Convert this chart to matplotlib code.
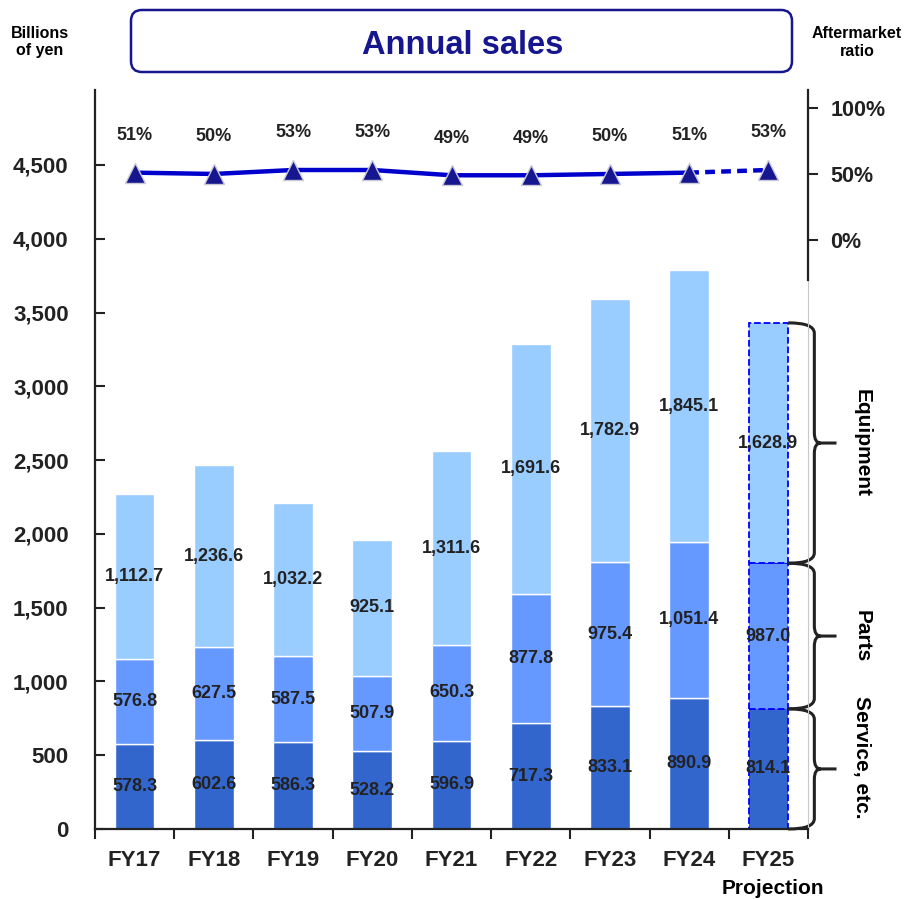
import numpy as np
import matplotlib
matplotlib.use('Agg')
import matplotlib.pyplot as plt
from matplotlib.patches import FancyBboxPatch, PathPatch
from matplotlib.path import Path

plt.rcParams['font.family'] = ['Liberation Sans', 'DejaVu Sans']
plt.rcParams['font.weight'] = 'bold'

# data
years = ['FY17', 'FY18', 'FY19', 'FY20', 'FY21', 'FY22', 'FY23', 'FY24', 'FY25']
service = [578.3, 602.6, 586.3, 528.2, 596.9, 717.3, 833.1, 890.9, 814.1]
parts = [576.8, 627.5, 587.5, 507.9, 650.3, 877.8, 975.4, 1051.4, 987.0]
equipment = [1112.7, 1236.6, 1032.2, 925.1, 1311.6, 1691.6, 1782.9, 1845.1, 1628.9]
ratio = [51, 50, 53, 53, 49, 49, 50, 51, 53]
segment_names = ['Service, etc.', 'Parts', 'Equipment']

c_service = '#3366cc'
c_parts = '#6699ff'
c_equip = '#99ccff'
navy = '#16168f'
dark = '#222222'

W, H = 906, 899
fig = plt.figure(figsize=(W / 100, H / 100), dpi=100)
ax = fig.add_axes([95 / W, 70 / H, 713 / W, 739 / H])

x = np.arange(len(years))
service = np.array(service)
parts = np.array(parts)
equipment = np.array(equipment)
bw = 0.5
n_act = len(years) - 1

# actual years
ax.bar(x[:n_act], service[:n_act], bw, color=c_service, edgecolor='white', linewidth=1)
ax.bar(x[:n_act], parts[:n_act], bw, bottom=service[:n_act], color=c_parts,
       edgecolor='white', linewidth=1)
ax.bar(x[:n_act], equipment[:n_act], bw, bottom=(service + parts)[:n_act], color=c_equip,
       edgecolor='white', linewidth=1)
# projection year with dashed outline
i = n_act
ax.bar(x[i], service[i], bw, color=c_service, edgecolor='#0000ff', linewidth=1.3, linestyle='--')
ax.bar(x[i], parts[i], bw, bottom=service[i], color=c_parts, edgecolor='#0000ff',
       linewidth=1.3, linestyle='--')
ax.bar(x[i], equipment[i], bw, bottom=service[i] + parts[i], color=c_equip,
       edgecolor='#0000ff', linewidth=1.3, linestyle='--')

# value labels
for k in range(len(years)):
    bottoms = [0, service[k], service[k] + parts[k]]
    for b, v in zip(bottoms, [service[k], parts[k], equipment[k]]):
        ax.text(x[k], b + v / 2, f'{v:,.1f}', ha='center', va='center',
                fontsize=13, color=dark, fontweight='bold')

ax.set_xlim(-0.5, len(years) - 0.5)
ax.set_ylim(0, 5008)
ax.set_yticks(np.arange(0, 5000, 500))
ax.set_yticklabels([f'{v:,}' for v in range(0, 5000, 500)])
ax.set_xticks(x)
ax.set_xticklabels(years)
ax.set_xticks(np.arange(-0.5, len(years)), minor=True)
ax.tick_params(axis='x', which='major', length=0, pad=15, labelsize=16, labelcolor=dark)
ax.tick_params(axis='x', which='minor', direction='out', length=7, width=1.5, color=dark)
ax.tick_params(axis='y', direction='in', length=7, width=1.5, color=dark, pad=19,
               labelsize=16, labelcolor=dark)
for lab in ax.get_xticklabels() + ax.get_yticklabels():
    lab.set_fontweight('bold')
ax.spines['top'].set_visible(False)
ax.spines['left'].set_color(dark)
ax.spines['left'].set_linewidth(1.6)
ax.spines['bottom'].set_color(dark)
ax.spines['bottom'].set_linewidth(1.6)
ax.spines['right'].set_color('#c8c8c8')
ax.spines['right'].set_linewidth(0.8)

# aftermarket ratio line
ax2 = ax.twinx()
ax2.set_ylim(-446.2, 113.6)
ax2.plot(x[:n_act], ratio[:n_act], color='#0000cc', lw=3.2, zorder=2)
ax2.plot(x[n_act - 1:], ratio[n_act - 1:], color='#0000cc', lw=3.2, linestyle=(0, (2.2, 1.4)), zorder=2)
ax2.plot(x, ratio, linestyle='none', marker='^', markersize=15, markerfacecolor=navy,
         markeredgecolor='#c8c8d8', markeredgewidth=1, zorder=3)
for k, r in enumerate(ratio):
    ax2.annotate(f'{r}%', (x[k], r), xytext=(0, 37), textcoords='offset pixels',
                 ha='center', va='center', fontsize=13, color=dark, fontweight='bold')
ax2.set_yticks([0, 50, 100])
ax2.set_yticklabels(['0%', '50%', '100%'])
ax2.tick_params(axis='y', direction='out', length=7, width=1.5, color=dark, pad=9,
                labelsize=15.5, labelcolor=dark)
for lab in ax2.get_yticklabels():
    lab.set_fontweight('bold')
for s in ['top', 'left', 'bottom']:
    ax2.spines[s].set_visible(False)
ax2.spines['right'].set_bounds(-30, 113.6)
ax2.spines['right'].set_color(dark)
ax2.spines['right'].set_linewidth(1.6)


# curly braces next to the projection bar
def brace(y0, y1, x0, xv, xt, r):
    ym = (y0 + y1) / 2
    verts = [(x0, y1), (xv, y1), (xv, y1 - r),
             (xv, ym + r),
             (xv, ym), (xv + 0.08, ym),
             (xt, ym),
             (xv + 0.08, ym),
             (xv, ym), (xv, ym - r),
             (xv, y0 + r),
             (xv, y0), (x0, y0)]
    codes = [Path.MOVETO, Path.CURVE3, Path.CURVE3,
             Path.LINETO,
             Path.CURVE3, Path.CURVE3,
             Path.LINETO,
             Path.MOVETO,
             Path.CURVE3, Path.CURVE3,
             Path.LINETO,
             Path.CURVE3, Path.CURVE3]
    ax.add_patch(PathPatch(Path(verts, codes), facecolor='none', edgecolor=dark,
                           lw=2.2, clip_on=False))


edges = [0, service[i], service[i] + parts[i], service[i] + parts[i] + equipment[i]]
label_shift = [80, 0, 0]
for j, name in enumerate(segment_names):
    brace(edges[j], edges[j + 1], x[i] + bw / 2, 8.58, 8.86, 70)
    ax.text(9.18, (edges[j] + edges[j + 1]) / 2 + label_shift[j], name, rotation=270,
            ha='center', va='center', fontsize=15, color='black', fontweight='bold',
            clip_on=False)

# title box
box = FancyBboxPatch((131 / W, 1 - 72 / H), 661 / W, 62 / H,
                     boxstyle='round,pad=0,rounding_size=0.012',
                     transform=fig.transFigure, facecolor='white', edgecolor=navy, lw=1.8)
fig.patches.append(box)
fig.text(463 / W, 1 - 46 / H, 'Annual sales', ha='center', va='center',
         fontsize=23.5, color=navy, fontweight='bold')
fig.text(40 / W, 1 - 42 / H, 'Billions\nof yen', ha='center', va='center',
         fontsize=11.5, color='black', fontweight='bold', linespacing=1.25)
fig.text(857 / W, 1 - 42 / H, 'Aftermarket\nratio', ha='center', va='center',
         fontsize=11.5, color='black', fontweight='bold', linespacing=1.25)
fig.text(773 / W, 1 - 888 / H, 'Projection', ha='center', va='center',
         fontsize=15, color='black', fontweight='bold')

fig.savefig('out.png', dpi=100)
